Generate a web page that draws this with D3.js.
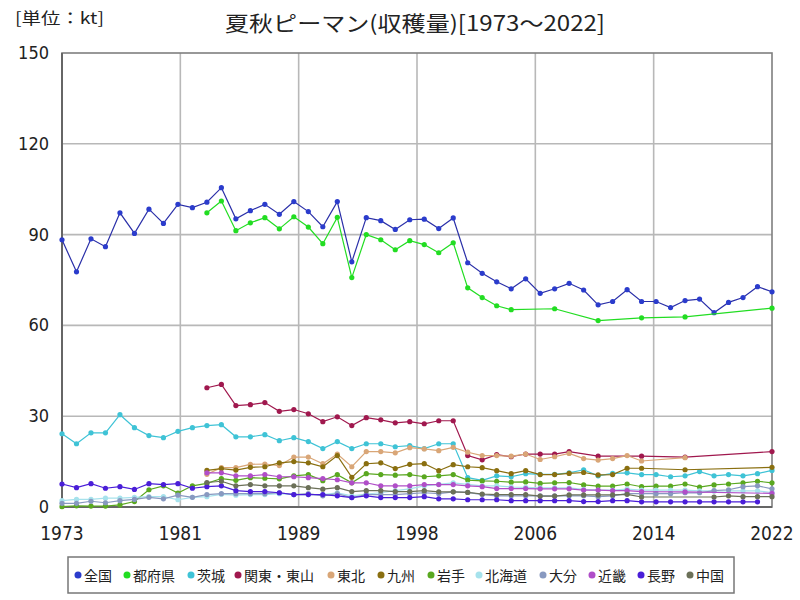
<!DOCTYPE html>
<html><head><meta charset="utf-8">
<script src="https://cdn.jsdelivr.net/npm/d3@7"></script>
<style>
html,body{margin:0;padding:0;background:#fff;}
svg{display:block;}
.num{font-family:"Liberation Sans Narrow","DejaVu Sans Condensed","Liberation Sans",sans-serif;}
.jp{font-family:"Noto Sans CJK JP","Noto Sans",sans-serif;}
</style></head>
<body>
<svg id="chart" width="800" height="600"></svg>
<script>
const years = d3.range(1973, 2023);
const seriesNames = ["全国","都府県","茨城","関東・東山","東北","九州","岩手","北海道","大分","近畿","長野","中国"];
const seriesColors = ["#2b3ccc","#22dd22","#3fc3d6","#a0184e","#d9a677","#8a6f10","#5aa820","#a6e2ec","#8899c0","#b04ec8","#4a1ed8","#6b7058"];
const yTicks = [0,30,60,90,120,150];
const xTickLabels = ["1973","1981","1989","1998","2006","2014","2022"];
const N = null;

const zenkoku = [88.3,77.7,88.6,86.0,97.2,90.4,98.4,93.7,100.0,98.9,
  100.7,105.5,95.2,97.9,100.0,96.7,100.9,97.6,92.6,100.9,
  81.0,95.6,94.6,91.7,94.9,95.1,92.0,95.5,80.7,77.2,
  74.4,72.1,75.4,70.6,72.1,73.9,71.7,66.8,67.9,71.8,
  67.9,67.9,65.9,68.2,68.7,64.2,67.6,69.2,72.8,71.1];
const tofuken = [N,N,N,N,N,N,N,N,N,N,
  97.2,101.1,91.3,93.9,95.6,91.9,95.9,92.5,87.0,95.7,
  75.8,90.0,88.3,85.0,88.0,86.7,84.0,87.3,72.4,69.2,
  66.5,65.2,N,N,65.5,N,N,61.6,N,N,
  62.5,N,N,62.8,N,N,N,N,N,65.7];
const ibaraki = [24.2,20.9,24.5,24.5,30.5,26.2,23.6,22.9,25.0,26.2,
  26.9,27.2,23.2,23.2,23.9,21.9,22.9,21.6,19.3,21.6,
  19.3,20.9,20.9,19.9,20.3,19.3,20.9,20.9,9.7,8.8,
  10.3,10.0,11.0,10.8,10.8,11.3,12.3,10.3,11.1,11.3,
  10.7,10.7,10.0,10.3,11.7,10.3,10.7,10.3,11.0,12.1];
const kanto = [N,N,N,N,N,N,N,N,N,N,
  39.4,40.5,33.5,33.8,34.5,31.6,32.2,30.8,28.2,29.8,
  26.9,29.5,28.8,27.8,28.2,27.5,28.5,28.5,17.0,15.6,
  17.3,16.6,17.5,17.5,17.5,18.3,N,16.8,N,N,
  16.8,N,N,16.5,N,N,N,N,N,18.3];
const tohoku = [N,N,N,N,N,N,N,N,N,N,
  10.8,13.0,13.0,14.1,14.2,13.7,16.5,16.5,14.3,17.5,
  13.3,18.3,18.3,17.9,19.6,19.2,18.6,19.7,18.1,17.0,
  17.0,16.8,17.5,15.7,16.6,17.7,16.0,15.5,16.0,17.0,
  15.2,N,N,16.3,N,N,N,N,N,N];
const kyushu = [N,N,N,N,N,N,N,N,N,N,
  12.1,12.7,12.2,13.1,13.3,14.6,15.0,14.6,13.3,17.0,
  9.8,14.3,14.6,12.7,14.1,14.3,12.0,14.0,13.3,13.0,
  12.0,11.0,12.0,10.7,10.7,11.1,11.4,10.6,10.7,12.8,
  12.8,N,N,12.3,N,N,N,N,N,13.1];
const iwate = [0.1,0.4,0.3,0.3,0.7,1.8,5.7,7.0,4.6,7.0,
  7.8,9.4,8.8,9.7,9.5,9.3,10.3,10.7,8.7,10.7,
  8.0,11.0,10.7,10.5,10.7,10.0,10.3,10.7,8.9,8.6,
  8.5,8.2,8.3,7.8,8.0,8.1,7.3,6.9,6.9,7.6,
  6.7,6.9,6.9,7.6,6.6,7.3,7.6,8.0,8.5,8.0];
const hokkaido = [2.1,2.5,2.5,2.9,2.9,3.2,3.4,3.4,2.4,3.2,
  3.4,4.2,3.9,4.1,4.1,4.4,4.1,4.1,4.1,4.7,
  3.7,4.3,4.7,5.4,6.0,7.0,7.5,8.0,7.5,7.0,
  7.0,6.6,6.5,6.3,6.3,6.3,5.8,5.6,5.6,5.9,
  5.6,5.6,5.6,5.6,5.3,5.3,5.3,5.3,5.3,4.8];
const oita = [1.2,1.2,1.9,1.4,2.1,2.5,3.2,2.7,3.9,3.2,
  4.1,4.4,4.4,4.4,4.4,4.7,4.1,4.4,3.7,4.4,
  3.1,4.1,4.1,4.1,4.4,4.7,4.4,5.0,4.8,4.1,
  3.7,3.7,3.7,3.7,3.7,3.7,3.7,3.4,3.7,4.4,
  4.4,4.4,4.4,4.7,4.7,5.4,5.7,6.7,7.0,6.0];
const kinki = [N,N,N,N,N,N,N,N,N,N,
  11.3,11.3,10.3,10.3,10.7,10.0,10.0,9.7,9.4,9.0,
  8.0,8.0,7.0,7.0,7.0,7.4,7.4,7.4,7.0,6.7,
  6.1,6.1,6.1,6.0,6.0,6.0,5.6,5.6,5.4,5.4,
  5.1,N,N,5.0,N,N,N,N,N,4.5];
const nagano = [7.6,6.4,7.7,6.2,6.7,5.8,7.7,7.4,7.7,6.2,
  6.7,7.0,5.4,5.1,5.1,4.7,4.1,4.1,4.1,3.7,
  3.1,3.7,3.1,3.1,3.1,3.4,2.7,2.7,2.4,2.4,
  2.4,2.1,2.1,2.1,2.1,2.1,1.8,1.8,2.1,2.1,
  1.7,1.7,1.7,1.7,1.7,1.7,1.7,1.7,1.7,N];
const chugoku = [N,N,N,N,N,N,N,N,N,N,
  8.1,8.5,7.0,7.4,7.0,7.0,7.0,6.4,5.9,6.4,
  5.1,5.4,5.4,5.1,5.1,5.4,5.0,5.0,4.8,4.3,
  4.1,4.1,4.1,3.6,3.6,4.0,4.0,4.0,4.0,4.2,
  3.3,N,N,N,N,3.3,3.7,3.4,3.4,3.4];

const seriesValues = [zenkoku,tofuken,ibaraki,kanto,tohoku,kyushu,iwate,hokkaido,oita,kinki,nagano,chugoku];

const svg = d3.select("#chart");
const L = 62, R = 772, T = 53, B = 507;
const x = d3.scaleLinear().domain([1973,2022]).range([L,R]);
const y = d3.scaleLinear().domain([0,150]).range([B,T]);

// grid
const xTickVals = d3.range(7).map(i => 1973 + i*(2022-1973)/6);
svg.append("g").selectAll("line").data(xTickVals.slice(1,6)).join("line")
  .attr("x1", d=>x(d)).attr("x2", d=>x(d)).attr("y1", T).attr("y2", B)
  .attr("stroke","#b8b8b8").attr("stroke-width",1.6);
svg.append("g").selectAll("line").data(yTicks.slice(1,5)).join("line")
  .attr("x1", L).attr("x2", R).attr("y1", d=>y(d)).attr("y2", d=>y(d))
  .attr("stroke","#b8b8b8").attr("stroke-width",1.6);
// frame
svg.append("rect").attr("x",L).attr("y",T).attr("width",R-L).attr("height",B-T)
  .attr("fill","none").attr("stroke","#7f7f7f").attr("stroke-width",1.6);
svg.append("line").attr("x1",L).attr("x2",L).attr("y1",T).attr("y2",B).attr("stroke","#666").attr("stroke-width",2);
svg.append("line").attr("x1",L).attr("x2",R).attr("y1",B).attr("y2",B).attr("stroke","#666").attr("stroke-width",2);

// axes labels
svg.append("g").selectAll("text").data(yTicks).join("text")
  .attr("class","num").attr("x",49).attr("y",d=>y(d)+6).attr("text-anchor","end")
  .attr("font-size",18).attr("fill","#222").text(d=>d);
svg.append("g").selectAll("text").data(xTickVals).join("text")
  .attr("class","num").attr("x",d=>x(d)).attr("y",540).attr("text-anchor","middle")
  .attr("font-size",19).attr("fill","#222").text((d,i)=>xTickLabels[i]);

// title & unit
svg.append("text").attr("class","jp").attr("x",415).attr("y",31).attr("text-anchor","middle")
  .attr("font-size",21).attr("fill","#222")
  .attr("textLength",380).attr("lengthAdjust","spacingAndGlyphs")
  .text("夏秋ピーマン(収穫量)[1973〜2022]");
svg.append("text").attr("class","jp").attr("x",15).attr("y",24)
  .attr("font-size",16).attr("fill","#222")
  .attr("textLength",89).attr("lengthAdjust","spacingAndGlyphs")
  .text("[単位：kt]");

// series
const line = d3.line().x(d=>x(d.year)).y(d=>y(d.v));
seriesNames.forEach((name,i)=>{
  const pts = years.map((yr,j)=>({year:yr, v:seriesValues[i][j]})).filter(d=>d.v!==null);
  const g = svg.append("g");
  g.append("path").datum(pts).attr("d",line).attr("fill","none")
    .attr("stroke", i===0 ? "#2a2fa8" : seriesColors[i]).attr("stroke-width",1.2);
  g.selectAll("circle").data(pts).join("circle")
    .attr("cx",d=>x(d.year)).attr("cy",d=>y(d.v)).attr("r",2.6)
    .attr("fill",seriesColors[i]);
});

// legend
svg.append("rect").attr("x",68).attr("y",557).attr("width",666).attr("height",36)
  .attr("fill","#fff").attr("stroke","#777").attr("stroke-width",1.5);
const legX = [78,127,191,238,331,381,431,479,543,592,641,690];
const lg = svg.append("g");
seriesNames.forEach((name,i)=>{
  lg.append("circle").attr("cx",legX[i]).attr("cy",575).attr("r",3.5).attr("fill",seriesColors[i]);
  lg.append("text").attr("class","jp").attr("x",legX[i]+6).attr("y",580.5)
    .attr("font-size",14).attr("fill","#222").text(name);
});
</script>
</body></html>
